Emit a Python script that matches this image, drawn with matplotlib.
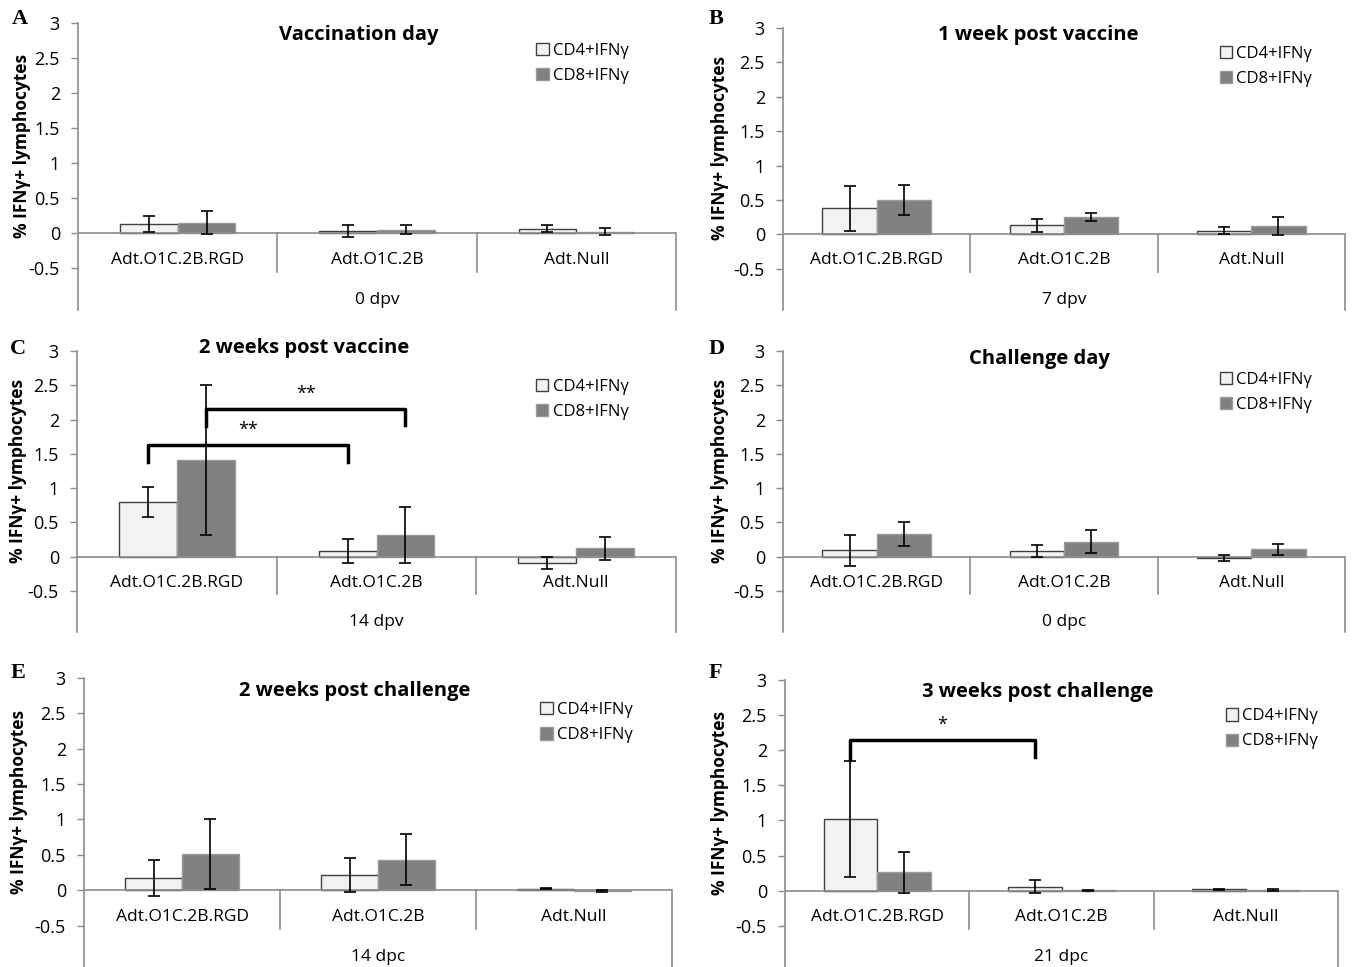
import numpy as np
import matplotlib.pyplot as plt

plt.rcParams['font.family'] = ['Open Sans', 'DejaVu Sans']

groups = ['Adt.O1C.2B.RGD', 'Adt.O1C.2B', 'Adt.Null']
series = ['CD4+IFNγ', 'CD8+IFNγ']
letters = ['A', 'B', 'C', 'D', 'E', 'F']
titles = ['Vaccination day', '1 week post vaccine', '2 weeks post vaccine',
          'Challenge day', '2 weeks post challenge', '3 weeks post challenge']
days = ['0 dpv', '7 dpv', '14 dpv', '0 dpc', '14 dpc', '21 dpc']

# mean values per panel (rows = panels A..F, cols = groups)
cd4_mean = [
    [0.13, 0.03, 0.06],
    [0.38, 0.13, 0.05],
    [0.80, 0.08, -0.09],
    [0.09, 0.08, -0.02],
    [0.17, 0.22, 0.02],
    [1.02, 0.06, 0.02],
]
cd4_err = [
    [0.12, 0.09, 0.05],
    [0.33, 0.09, 0.05],
    [0.22, 0.17, 0.09],
    [0.22, 0.09, 0.04],
    [0.25, 0.24, 0.01],
    [0.83, 0.09, 0.01],
]
cd8_mean = [
    [0.15, 0.05, 0.02],
    [0.50, 0.25, 0.12],
    [1.41, 0.31, 0.12],
    [0.33, 0.22, 0.11],
    [0.51, 0.43, -0.01],
    [0.26, 0.005, 0.01],
]
cd8_err = [
    [0.17, 0.06, 0.05],
    [0.22, 0.06, 0.13],
    [1.09, 0.41, 0.17],
    [0.18, 0.17, 0.08],
    [0.50, 0.36, 0.01],
    [0.29, 0.01, 0.01],
]

# significance brackets: panel, x1, x2, height, left tip, right tip, label
brackets = [
    (2, -0.145, 0.855, 1.63, 1.38, 1.38, '**'),
    (2, 0.145, 1.145, 2.15, 1.90, 1.92, '**'),
    (5, -0.145, 0.855, 2.14, 1.86, 1.90, '*'),
]

W, H = 1352, 967
# panel boxes in pixels: left, top, right, bottom
boxes = [
    (78, 23, 676, 310),
    (783, 28, 1345, 310),
    (77, 351, 676, 632),
    (783, 351, 1345, 632),
    (84, 678, 672, 968),
    (785, 680, 1338, 968),
]
letter_pos = [(12, 19), (709, 19), (10, 349), (709, 349), (11, 673), (709, 673)]
title_pos = [(0.47, 0.958), (0.454, 0.975), (0.38, 1.01),
             (0.457, 0.97), (0.46, 0.955), (0.457, 0.958)]
legend_pos = [(0.755, 0.955), (0.765, 0.96), (0.755, 0.925),
              (0.765, 0.95), (0.765, 0.94), (0.785, 0.925)]
ylabel_x = [31, 729, 27, 729, 28, 729]

fig = plt.figure(figsize=(W / 100, H / 100), dpi=100)
axis_grey = '#8c8c8c'
width = 0.29
x = np.arange(len(groups))

for i in range(6):
    l, t, r, b = boxes[i]
    ax = fig.add_axes([l / W, 1 - b / H, (r - l) / W, (b - t) / H])
    ax.bar(x - width / 2, cd4_mean[i], width, yerr=cd4_err[i], color='#f2f2f2',
           edgecolor='#404040', linewidth=1.0, label=series[0],
           error_kw=dict(ecolor='black', elinewidth=1.2, capsize=4, capthick=1.2))
    ax.bar(x + width / 2, cd8_mean[i], width, yerr=cd8_err[i], color='#808080',
           edgecolor='#9a9a9a', linewidth=1.0, label=series[1],
           error_kw=dict(ecolor='black', elinewidth=1.2, capsize=4, capthick=1.2))

    ax.set_xlim(-0.5, 2.5)
    ax.set_ylim(-1.1, 3)
    ax.set_yticks([-0.5, 0, 0.5, 1, 1.5, 2, 2.5, 3])
    ax.set_yticklabels(['-0.5', '0', '0.5', '1', '1.5', '2', '2.5', '3'])
    ax.tick_params(axis='y', labelsize=13, colors=axis_grey, labelcolor='black',
                   length=5, width=1, pad=8)
    ax.set_xticks([])
    for s in ['top', 'right', 'bottom']:
        ax.spines[s].set_visible(False)
    ax.spines['left'].set_color(axis_grey)
    ax.spines['left'].set_linewidth(1.2)
    ax.patch.set_alpha(0)

    # category axis in excel style
    ax.axhline(0, color=axis_grey, lw=1.2, zorder=1)
    for sep in [0.5, 1.5]:
        ax.plot([sep, sep], [0, -0.55], color=axis_grey, lw=1.2)
    ax.plot([2.5, 2.5], [0, -1.1], color=axis_grey, lw=1.2, clip_on=False)
    for j, g in enumerate(groups):
        ax.text(j, -0.38, g, ha='center', va='center', fontsize=12.5)
    ax.text(1, -0.95, days[i], ha='center', va='center', fontsize=12.5)

    ax.text(title_pos[i][0], title_pos[i][1], titles[i], transform=ax.transAxes,
            ha='center', va='center', fontsize=14.5, fontweight='bold')
    ax.set_ylabel('% IFNγ+ lymphocytes', fontsize=12.5, fontweight='bold')
    ax.yaxis.set_label_coords((ylabel_x[i] - l) / (r - l), 0.573)

    ax.legend(loc='upper left', bbox_to_anchor=legend_pos[i], frameon=False,
              fontsize=12, handlelength=0.75, handleheight=0.75,
              handletextpad=0.25, labelspacing=0.55, borderaxespad=0)

    fig.text(letter_pos[i][0] / W, 1 - letter_pos[i][1] / H, letters[i],
             family='Liberation Serif', fontweight='bold', fontsize=16,
             ha='left', va='center')

    for p, x1, x2, hy, lt, rt, lab in brackets:
        if p != i:
            continue
        ax.plot([x1, x1, x2, x2], [lt, hy, hy, rt], color='black', lw=2.5)
        ax.text((x1 + x2) / 2, hy + 0.22, lab, ha='center', va='center', fontsize=13)

fig.savefig('out.png', dpi=100)
